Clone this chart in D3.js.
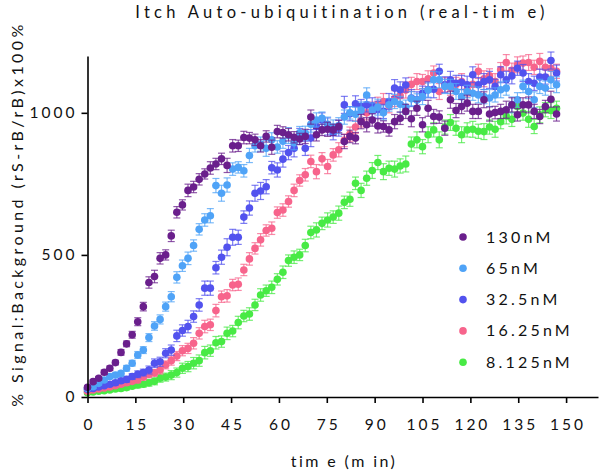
<!DOCTYPE html>
<html><head><meta charset="utf-8">
<script src="https://cdn.jsdelivr.net/npm/d3@7"></script>
<style>body{margin:0;background:#fff}svg{display:block}text{font-family:Lato,"Open Sans",sans-serif;fill:#111}</style>
</head><body><svg id="c" width="600" height="470"></svg>
<script>
const times = [0,1.75,3.5,5.25,7,8.75,10.5,12.25,14,15.75,17.5,19.25,21,22.75,24.5,26.25,28,29.75,31.5,33.25,35,36.75,38.5,40.25,42,43.75,45.5,47.25,49,50.75,52.5,54.25,56,57.75,59.5,61.25,63,64.75,66.5,68.25,70,71.75,73.5,75.25,77,78.75,80.5,82.25,84,85.75,87.5,89.25,91,92.75,94.5,96.25,98,99.75,101.5,103.25,105,106.75,108.5,110.25,112,113.75,115.5,117.25,119,120.75,122.5,124.25,126,127.75,129.5,131.25,133,134.75,136.5,138.25,140,141.75,143.5,145.25,147];
const seriesNames = ["130nM","65nM","32.5nM","16.25nM","8.125nM"];
const seriesColors = ["#6a1f8c","#4fa3f7","#5252ee","#f7648c","#48ea45"];
const v130 = [34,54,66,87,101,121,157,187,219,265,318,403,424,488,500,567,650,676,727,739,766,785,806,820,838,815,884,884,913,911,905,884,917,879,934,931,923,914,908,917,985,923,940,942,940,952,899,917,911,969,958,975,954,952,940,969,981,1005,979,1016,958,1016,987,985,946,1046,1008,1022,1034,1005,1005,1046,996,1001,1005,1011,1028,993,1028,1028,1005,987,1022,1048,996];
const v65 = [30,36,48,60,72,77,83,101,119,148,165,209,250,273,318,353,421,462,488,533,590,623,638,744,717,746,802,808,796,850,884,890,875,905,880,900,920,895,930,928,960,975,981,960,950,955,985,1000,995,1010,1063,1010,1020,1000,1028,1040,1030,1020,1050,1045,1057,1080,1116,1116,1093,1093,1075,1057,1075,1069,1063,1057,1052,1063,1081,1087,1028,1046,1093,1075,1046,1093,1087,1116,1099];
const v32 = [27,30,35,40,45,50,57,62,72,80,86,95,119,124,154,165,215,234,248,283,324,383,383,455,492,527,562,562,633,665,717,725,740,807,799,837,860,875,917,875,911,952,975,952,930,946,1028,997,1032,1022,1028,1025,1011,1005,1040,1087,1081,1098,1052,1046,1069,1081,1083,1146,1099,1116,1104,1107,1099,1134,1099,1110,1116,1093,1134,1116,1130,1157,1140,1110,1104,1126,1126,1184,1140];
const v16 = [20,25,28,32,35,40,45,50,55,60,70,80,85,95,113,128,144,163,171,189,224,248,254,304,353,356,394,397,447,486,523,553,586,594,649,658,688,727,762,782,829,793,838,811,852,870,903,925,950,975,1000,1010,1030,1040,1025,1050,1060,1080,1100,1110,1110,1120,1140,1075,1099,1090,1100,1110,1081,1100,1146,1120,1130,1110,1152,1177,1150,1169,1175,1177,1160,1181,1160,1157,1146];
const v8 = [15,18,20,22,25,28,30,33,38,42,45,50,55,66,70,77,86,101,107,119,128,156,163,191,195,224,232,262,285,292,324,359,374,386,414,439,480,492,500,533,579,588,611,623,633,647,685,696,752,727,770,797,825,793,805,802,813,820,890,905,881,923,940,905,950,966,946,923,940,942,935,934,950,942,969,989,977,1022,999,977,952,993,1011,1008,1016];
const e130 = [6,6,6,8,8,8,10,10,12,14,15,20,22,20,18,20,20,18,22,20,20,18,22,20,20,25,22,20,22,20,20,22,20,25,22,20,22,20,20,25,25,22,20,25,20,22,25,22,20,25,25,22,25,20,22,25,22,25,28,25,25,28,25,22,25,30,25,25,28,25,25,28,25,22,25,30,25,22,25,28,25,25,22,28,25];
const e65 = [6,6,6,6,8,8,8,10,10,12,12,14,15,16,16,18,20,20,22,20,20,22,25,25,28,25,22,20,22,25,22,25,28,25,22,25,28,25,22,25,28,25,22,25,25,28,25,22,25,28,25,25,28,25,22,25,28,25,25,22,28,25,30,28,25,25,28,25,22,25,28,25,30,25,28,25,28,25,22,25,28,25,25,30,28];
const e32 = [6,6,6,6,8,8,8,10,10,12,12,14,15,16,16,18,20,20,22,20,22,25,25,22,25,30,28,25,22,25,28,30,25,22,25,28,25,30,28,25,30,28,25,30,25,28,30,25,28,25,25,28,30,25,28,30,28,25,30,28,25,28,30,25,28,30,28,25,30,28,25,28,30,25,28,30,28,25,30,28,25,28,25,30,28];
const e16 = [5,5,5,6,6,6,8,8,8,10,10,12,12,14,14,16,16,18,18,20,20,22,20,22,20,22,20,22,20,22,20,22,20,22,20,22,20,22,20,22,22,25,22,25,22,25,22,25,22,25,25,28,25,28,25,28,25,28,25,28,25,28,25,28,25,28,25,28,25,28,25,28,25,28,25,28,25,28,25,28,25,28,25,28,25];
const e8 = [5,5,5,6,6,6,8,8,8,10,10,12,12,14,14,16,16,18,18,20,20,22,20,22,20,22,20,22,20,22,20,22,20,22,20,22,20,22,20,22,22,25,22,25,22,25,22,25,22,25,25,28,25,28,25,28,25,28,25,28,25,28,25,28,25,28,25,28,25,28,25,28,25,28,25,28,25,28,25,28,25,28,25,28,25];
const xTicks = [0,15,30,45,60,75,90,105,120,135,150];
const yTicks = [0,500,1000];
const titleText = "Itch Auto-ubiquitination (real-tim e)";
const xLabel = "tim e (m in)";
const yLabel = "% Signal:Background (rS-rB/rB)x100%";

const values = [v130,v65,v32,v16,v8];
const errs = [e130,e65,e32,e16,e8];
const svg = d3.select("#c");
const x = d3.scaleLinear().domain([0,160]).range([87.5,598]);
const y = d3.scaleLinear().domain([0,1200]).range([397,56]);

// draw series: green first, purple last
for (let s = 4; s >= 0; s--) {
  const g = svg.append("g");
  const col = seriesColors[s];
  const data = times.map((t,i)=>({t, v: values[s][i], e: errs[s][i]}));
  const eg = g.append("g").attr("stroke", col).attr("stroke-opacity",0.75).attr("stroke-width",1.2);
  data.forEach(d => {
    const x0 = x(d.t), y1 = y(d.v + d.e), y2 = y(d.v - d.e);
    eg.append("line").attr("x1",x0).attr("x2",x0).attr("y1",y1).attr("y2",y2);
    eg.append("line").attr("x1",x0-3.5).attr("x2",x0+3.5).attr("y1",y1).attr("y2",y1);
    eg.append("line").attr("x1",x0-3.5).attr("x2",x0+3.5).attr("y1",y2).attr("y2",y2);
  });
  g.selectAll("circle").data(data).join("circle")
    .attr("cx", d=>x(d.t)).attr("cy", d=>y(d.v)).attr("r",3.8).attr("fill",col);
}

// axes
const xa = svg.append("g").attr("transform","translate(0,397)")
  .call(d3.axisBottom(x).tickValues(xTicks).tickSize(6).tickSizeOuter(0).tickFormat(d3.format("d")));
xa.select(".domain").attr("stroke","#000").attr("stroke-width",1.6);
xa.selectAll(".tick line").attr("stroke","#000").attr("stroke-width",1.6);
xa.selectAll(".tick text").attr("dy","0").attr("y",33).attr("dx","1.5px").style("font-size","15.5px").style("letter-spacing","3px").attr("fill","#111");

const ya = svg.append("g").attr("transform","translate(87.5,0)")
  .call(d3.axisLeft(y).tickValues(yTicks).tickSize(6).tickSizeOuter(0).tickFormat(d3.format("d")));
ya.select(".domain").attr("stroke","#000").attr("stroke-width",1.6);
ya.selectAll(".tick line").attr("stroke","#000").attr("stroke-width",1.6);
ya.selectAll(".tick text").attr("x",-10).style("font-size","15.5px").style("letter-spacing","3px").attr("fill","#111");
svg.selectAll(".tick text").attr("font-family",null);

// title and labels
svg.append("text").attr("x",342).attr("y",18).attr("text-anchor","middle")
  .style("font-size","16.5px").style("letter-spacing","4.3px").text(titleText);
svg.append("text").attr("x",344).attr("y",467).attr("text-anchor","middle")
  .style("font-size","16px").style("letter-spacing","2.4px").text(xLabel);
svg.append("text").attr("transform","translate(23,214) rotate(-90)").attr("text-anchor","middle")
  .style("font-size","16px").style("letter-spacing","3.4px").text(yLabel);

// legend
const lg = svg.append("g");
seriesNames.forEach((n,i)=>{
  const ly = 237 + i*31.3;
  lg.append("circle").attr("cx",463).attr("cy",ly).attr("r",3.8).attr("fill",seriesColors[i]);
  lg.append("text").attr("x",486).attr("y",ly+5.5).style("font-size","16px").style("letter-spacing","3.2px").text(n);
});
</script></body></html>
